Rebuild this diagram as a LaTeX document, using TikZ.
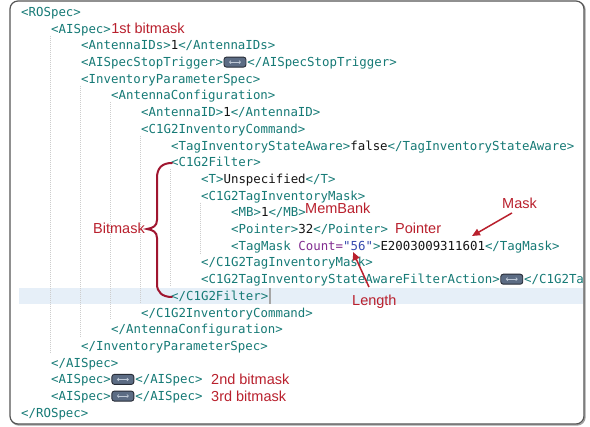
\documentclass[tikz,border=0pt]{standalone}
\usepackage{fontspec}
\setmonofont{DejaVu Sans Mono}
\setsansfont{Liberation Sans}
\usetikzlibrary{arrows.meta}

\definecolor{tagc}{RGB}{22,122,118}
\definecolor{txtc}{RGB}{20,20,20}
\definecolor{attrc}{RGB}{130,45,145}
\definecolor{valc}{RGB}{55,75,175}
\definecolor{notec}{RGB}{185,32,45}
\definecolor{bracec}{RGB}{160,22,48}
\definecolor{guidec}{RGB}{205,205,205}
\definecolor{hlc}{RGB}{230,239,248}
\definecolor{framec}{RGB}{85,85,85}
\definecolor{btnfill}{RGB}{92,108,132}
\definecolor{btnedge}{RGB}{40,45,55}
\definecolor{btnarrow}{RGB}{190,200,214}

\newcommand\tg[1]{\textcolor{tagc}{#1}}

\tikzset{
  code/.style={anchor=west, inner sep=0pt, text height=9pt, text depth=0pt,
    font=\ttfamily\fontsize{12.4}{14}\selectfont, text=txtc},
  note/.style={anchor=west, inner sep=0pt, text height=10.5pt, text depth=0pt,
    font=\sffamily\fontsize{14.5}{16}\selectfont, text=notec},
  btn/.style={anchor=west, draw=btnedge, fill=btnfill, line width=0.9pt,
    rounded corners=2.5pt, minimum width=22pt, minimum height=10pt, inner sep=0pt,
    path picture={\draw[btnarrow, line width=0.7pt,
      {Straight Barb[length=1.5pt,width=3pt]}-{Straight Barb[length=1.5pt,width=3pt]}]
      ([xshift=-6pt]path picture bounding box.center) --
      ([xshift=6pt]path picture bounding box.center);}},
  guide/.style={guidec, line width=0.8pt, dash pattern=on 1pt off 1pt},
  notearrow/.style={notec, line width=1.5pt, -{Triangle[length=8pt,width=7pt]}},
  bracepath/.style={bracec, line width=2pt, line cap=round},
}

\begin{document}
\begin{tikzpicture}[x=1pt,y=-1pt]
\useasboundingbox (0,0) rectangle (590,427);

% editor window frame with a soft drop shadow
\draw[framec!55, line width=1.4pt, rounded corners=8pt] (11,2) rectangle (585,425);
\draw[framec, fill=white, line width=1.2pt, rounded corners=8pt] (10,1) rectangle (584,424);

% current line highlight and caret
\fill[hlc] (19,288) rectangle (583,304);
\draw[gray!70, line width=1.2pt] (270,288) -- (270,304);

% indentation guides
\draw[guide] (50,35.7) -- (50,353.7);
\draw[guide] (80,85.8) -- (80,337);
\draw[guide] (110,102.5) -- (110,320.3);
\draw[guide] (140,135.9) -- (140,303.6);
\draw[guide] (170,169.3) -- (170,286.9);
\draw[guide] (200,202.7) -- (200,253.5);

% XML source lines
\begin{scope}
\clip (10,0) rectangle (583,427);
\node[code] (l0) at (21,12) {\tg{<ROSpec>}};
\node[code] (l1) at (51,28.7) {\tg{<AISpec>}};
\node[code] (l2) at (81,45.4) {\tg{<AntennaIDs>}1\tg{</AntennaIDs>}};
\node[code] (l3) at (81,62.1) {\tg{<AISpecStopTrigger>}};
\node[btn] (b3) at ([xshift=0.3pt]l3.east) {};
\node[code] (l3b) at ([xshift=0.8pt]b3.east) {\tg{</AISpecStopTrigger>}};
\node[code] (l4) at (81,78.8) {\tg{<InventoryParameterSpec>}};
\node[code] (l5) at (111,95.5) {\tg{<AntennaConfiguration>}};
\node[code] (l6) at (141,112.2) {\tg{<AntennaID>}1\tg{</AntennaID>}};
\node[code] (l7) at (141,128.9) {\tg{<C1G2InventoryCommand>}};
\node[code] (l8) at (171,145.6) {\tg{<TagInventoryStateAware>}false\tg{</TagInventoryStateAware>}};
\node[code] (l9) at (171,162.3) {\tg{<C1G2Filter>}};
\node[code] (l10) at (201,179) {\tg{<T>}Unspecified\tg{</T>}};
\node[code] (l11) at (201,195.7) {\tg{<C1G2TagInventoryMask>}};
\node[code] (l12) at (231,212.4) {\tg{<MB>}1\tg{</MB>}};
\node[code] (l13) at (231,229.1) {\tg{<Pointer>}32\tg{</Pointer>}};
\node[code] (l14) at (231,245.8) {\tg{<TagMask} \textcolor{attrc}{Count=}\textcolor{valc}{"56"}\tg{>}E2003009311601\tg{</TagMask>}};
\node[code] (l15) at (201,262.5) {\tg{</C1G2TagInventoryMask>}};
\node[code] (l16) at (201,279.2) {\tg{<C1G2TagInventoryStateAwareFilterAction>}};
\node[btn] (b16) at ([xshift=0.3pt]l16.east) {};
\node[code] (l16b) at ([xshift=0.8pt]b16.east) {\tg{</C1G2TagInventoryStateAwareFilterAction>}};
\node[code] (l17) at (171,295.9) {\tg{</C1G2Filter>}};
\node[code] (l18) at (141,312.6) {\tg{</C1G2InventoryCommand>}};
\node[code] (l19) at (111,329.3) {\tg{</AntennaConfiguration>}};
\node[code] (l20) at (81,346) {\tg{</InventoryParameterSpec>}};
\node[code] (l21) at (51,362.7) {\tg{</AISpec>}};
\node[code] (l22) at (51,379.4) {\tg{<AISpec>}};
\node[btn] (b22) at ([xshift=0.3pt]l22.east) {};
\node[code] (l22b) at ([xshift=0.8pt]b22.east) {\tg{</AISpec>}};
\node[code] (l23) at (51,396.1) {\tg{<AISpec>}};
\node[btn] (b23) at ([xshift=0.3pt]l23.east) {};
\node[code] (l23b) at ([xshift=0.8pt]b23.east) {\tg{</AISpec>}};
\node[code] (l24) at (21,412.8) {\tg{</ROSpec>}};
\end{scope}

% annotations
\node[note] (n1) at ([xshift=0pt]l1.east) {1st bitmask};
\node[note, anchor=east] (n2) at (145,228) {Bitmask};
\node[note] (n3) at (305,208.5) {MemBank};
\node[note] (n4) at (395,228) {Pointer};
\node[note] (n5) at (502,203) {Mask};
\node[note] (n6) at (352,300) {Length};
\node[note] (n7) at (211,379.4) {2nd bitmask};
\node[note] (n8) at (211,396.1) {3rd bitmask};

% curly brace around the filter element
\draw[bracepath] (172,163) .. controls (162,163) and (157,168) .. (157,178)
  -- (157,220) .. controls (157,226) and (153,228) .. (147,229)
  .. controls (153,230) and (157,232) .. (157,238)
  -- (157,284) .. controls (157,292) and (162,297) .. (172,297);

% arrows to the mask value and the bit count
\coordinate (tipM) at (472,236);
\coordinate (tipL) at (353,252);
\draw[notearrow] ([xshift=10pt,yshift=-4.5pt]n5.south west) -- (tipM);
\draw[notearrow] ([xshift=17pt,yshift=7.5pt]n6.north west) -- (tipL);
\end{tikzpicture}
\end{document}
